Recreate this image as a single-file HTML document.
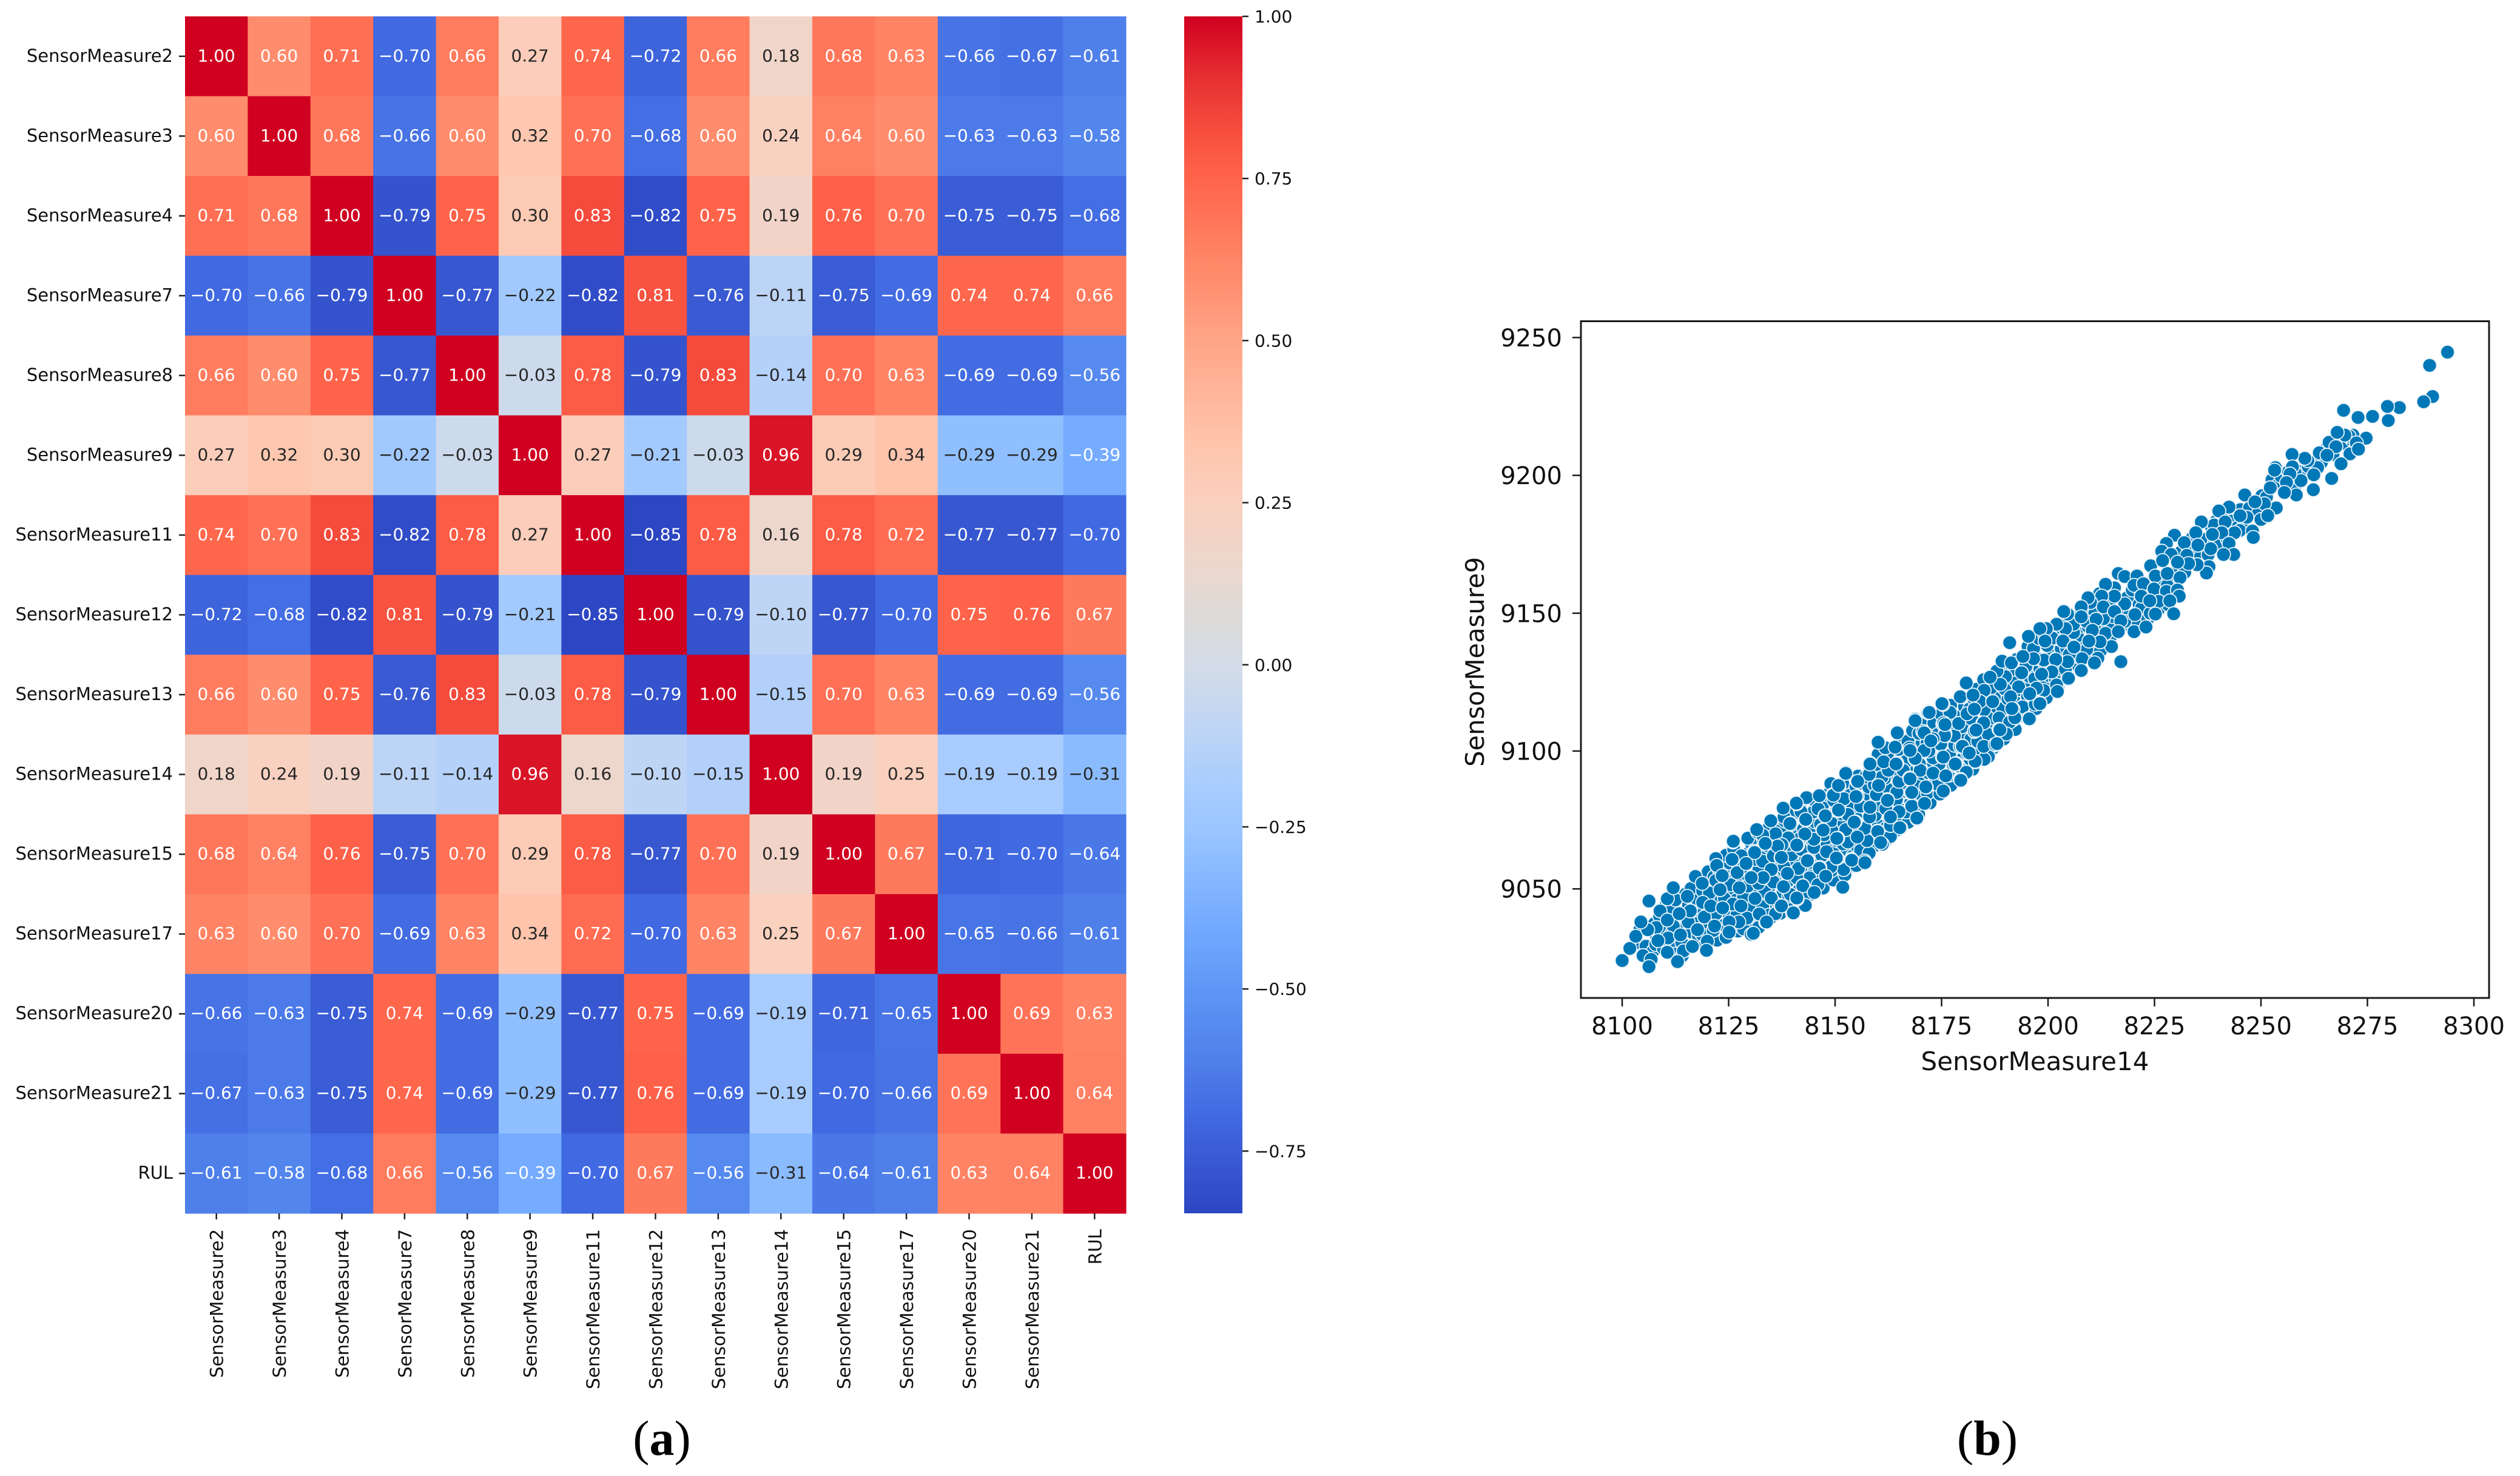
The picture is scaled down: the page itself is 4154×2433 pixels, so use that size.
<!DOCTYPE html>
<html lang="en">
<head>
<meta charset="utf-8">
<title>Sensor correlation heatmap and scatter plot</title>
<style>
html,body{margin:0;padding:0;background:#fff;}
svg{display:block;}
text{font-family:"DejaVu Sans","Liberation Sans",sans-serif;fill:#111;}
.serif{font-family:"Liberation Serif",serif;fill:#000;}
</style>
</head>
<body>
<svg id="figure" xmlns="http://www.w3.org/2000/svg" width="4154" height="2433" viewBox="0 0 4154 2433">
<rect width="4154" height="2433" fill="#ffffff"/>
<defs><linearGradient id="cbGrad" x1="0" y1="0" x2="0" y2="1"></linearGradient></defs>
<g id="heatmap"></g>
<g id="colorbar"></g>
<g id="scatter"></g>
<text class="serif" x="1091" y="2398" font-size="82" text-anchor="middle">(<tspan font-weight="bold">a</tspan>)</text>
<text class="serif" x="3276" y="2398" font-size="82" text-anchor="middle">(<tspan font-weight="bold">b</tspan>)</text>
</svg>
<script>
/* ---------- heatmap data ---------- */
const sensorLabels = ["SensorMeasure2","SensorMeasure3","SensorMeasure4","SensorMeasure7","SensorMeasure8","SensorMeasure9","SensorMeasure11","SensorMeasure12","SensorMeasure13","SensorMeasure14","SensorMeasure15","SensorMeasure17","SensorMeasure20","SensorMeasure21","RUL"];
const corrRow0  = [1.00,0.60,0.71,-0.70,0.66,0.27,0.74,-0.72,0.66,0.18,0.68,0.63,-0.66,-0.67,-0.61];
const corrRow1  = [0.60,1.00,0.68,-0.66,0.60,0.32,0.70,-0.68,0.60,0.24,0.64,0.60,-0.63,-0.63,-0.58];
const corrRow2  = [0.71,0.68,1.00,-0.79,0.75,0.30,0.83,-0.82,0.75,0.19,0.76,0.70,-0.75,-0.75,-0.68];
const corrRow3  = [-0.70,-0.66,-0.79,1.00,-0.77,-0.22,-0.82,0.81,-0.76,-0.11,-0.75,-0.69,0.74,0.74,0.66];
const corrRow4  = [0.66,0.60,0.75,-0.77,1.00,-0.03,0.78,-0.79,0.83,-0.14,0.70,0.63,-0.69,-0.69,-0.56];
const corrRow5  = [0.27,0.32,0.30,-0.22,-0.03,1.00,0.27,-0.21,-0.03,0.96,0.29,0.34,-0.29,-0.29,-0.39];
const corrRow6  = [0.74,0.70,0.83,-0.82,0.78,0.27,1.00,-0.85,0.78,0.16,0.78,0.72,-0.77,-0.77,-0.70];
const corrRow7  = [-0.72,-0.68,-0.82,0.81,-0.79,-0.21,-0.85,1.00,-0.79,-0.10,-0.77,-0.70,0.75,0.76,0.67];
const corrRow8  = [0.66,0.60,0.75,-0.76,0.83,-0.03,0.78,-0.79,1.00,-0.15,0.70,0.63,-0.69,-0.69,-0.56];
const corrRow9  = [0.18,0.24,0.19,-0.11,-0.14,0.96,0.16,-0.10,-0.15,1.00,0.19,0.25,-0.19,-0.19,-0.31];
const corrRow10 = [0.68,0.64,0.76,-0.75,0.70,0.29,0.78,-0.77,0.70,0.19,1.00,0.67,-0.71,-0.70,-0.64];
const corrRow11 = [0.63,0.60,0.70,-0.69,0.63,0.34,0.72,-0.70,0.63,0.25,0.67,1.00,-0.65,-0.66,-0.61];
const corrRow12 = [-0.66,-0.63,-0.75,0.74,-0.69,-0.29,-0.77,0.75,-0.69,-0.19,-0.71,-0.65,1.00,0.69,0.63];
const corrRow13 = [-0.67,-0.63,-0.75,0.74,-0.69,-0.29,-0.77,0.76,-0.69,-0.19,-0.70,-0.66,0.69,1.00,0.64];
const corrRow14 = [-0.61,-0.58,-0.68,0.66,-0.56,-0.39,-0.70,0.67,-0.56,-0.31,-0.64,-0.61,0.63,0.64,1.00];
const corrRows = [corrRow0,corrRow1,corrRow2,corrRow3,corrRow4,corrRow5,corrRow6,corrRow7,corrRow8,corrRow9,corrRow10,corrRow11,corrRow12,corrRow13,corrRow14];
const colorbarTicks = [1.00,0.75,0.50,0.25,0.00,-0.25,-0.50,-0.75];
const colorStopValues = [-0.846,-0.75,-0.7,-0.6,-0.5,-0.4,-0.25,-0.2,-0.1,0,0.05,0.15,0.25,0.35,0.5,0.6,0.75,0.8,0.9,1];
const colorStopRGB = [[45,70,195],[58,92,212],[65,105,225],[80,130,235],[95,150,245],[115,170,255],[155,198,255],[165,203,255],[190,213,245],[212,220,232],[217,219,220],[235,215,205],[250,208,190],[255,195,170],[255,165,135],[255,140,108],[255,100,75],[250,85,65],[232,50,50],[208,0,32]];

/* ---------- scatter data ---------- */
const scatterXTicks = [8100,8125,8150,8175,8200,8225,8250,8275,8300];
const scatterYTicks = [9050,9100,9150,9200,9250];

const underAX = [8103.5,8104.2,8105.6,
8107.3,8108.1,8107.6,8108.8,8107.9,
8110.2,8109.4,8110.9,8110.1,8109.7,
8112.4,8111.6,8112.9,8111.8,8112.7,8112.2,
8114.7,8113.9,8115.2,8114.3,8115.6,8114.9,8114.1,
8117.1,8116.3,8117.6,8116.8,8117.4,8116.2,8117.9,
8119.6,8118.7,8120.1,8119.2,8120.4,8118.9,8119.8,8120.2,
8122.3,8121.4,8122.8,8121.9,8123.1,8122.1,8121.6,8122.7,
8124.6,8123.9,8125.1,8124.2,8125.4,8124.8,8123.7,8125.2,8124.4,
8127.2,8126.4,8127.7,8126.9,8128.1,8126.6,8127.4,8127.9,8126.2,
8129.6,8128.9,8130.2,8129.3,8130.6,8129.1,8130.1,8129.8,8130.4,8129.5,
8132.3,8131.6,8132.8,8131.9,8133.1,8132.1,8131.4,8132.6,8133.2,8131.8,
8134.7,8134.1,8135.2,8134.4,8135.6,8134.9,8135.4,8134.2,8135.1,8134.6];
const underAY = [9030.5,9035.4,9029.2,
9027.5,9032.6,9037.4,9040.1,9029.8,
9030.1,9035.3,9041.2,9043.6,9028.4,
9029.4,9033.8,9038.2,9043.1,9047.4,9026.3,
9028.6,9032.7,9036.9,9040.4,9044.2,9048.1,9025.7,
9030.6,9034.4,9038.1,9042.3,9046.6,9050.2,9033.1,
9029.9,9033.6,9037.8,9041.6,9045.7,9049.3,9053.4,9056.2,
9031.4,9034.9,9038.6,9043.2,9047.1,9050.6,9054.4,9057.3,
9033.1,9036.8,9040.4,9044.9,9048.2,9052.3,9056.1,9059.4,9062.2,
9034.7,9038.9,9042.2,9046.1,9049.8,9053.4,9057.6,9061.2,9064.4,
9036.2,9040.6,9044.3,9048.2,9052.1,9055.4,9059.6,9063.1,9066.3,9068.4,
9037.1,9041.9,9045.2,9049.6,9053.1,9056.9,9060.7,9064.2,9067.8,9070.6,
9039.3,9042.8,9046.9,9050.4,9054.8,9058.2,9061.6,9065.6,9069.1,9072.8];

const underBX = [8137.2,8136.6,8137.8,8136.9,8138.1,8137.4,8136.7,8137.9,8137.1,8138.2,
8139.6,8139.1,8140.2,8139.4,8140.6,8139.8,8139.2,8140.4,8139.7,8140.1,
8142.3,8141.6,8142.8,8141.9,8143.1,8142.1,8141.7,8142.6,8143.2,8141.8,
8144.6,8144.1,8145.2,8144.4,8145.6,8144.8,8144.2,8145.3,8144.9,8145.4,
8147.2,8146.7,8147.8,8146.9,8148.1,8147.4,8146.6,8147.9,8147.1,8148.2,
8149.6,8149.1,8150.2,8149.4,8150.6,8149.8,8149.2,8150.4,8149.7,8150.1,
8152.3,8151.7,8152.8,8151.9,8153.1,8152.1,8151.6,8152.6,8153.2,8151.8,
8154.6,8154.1,8155.2,8154.4,8155.6,8154.8,8154.2,8155.3,8154.9,8155.4,
8157.2,8156.7,8157.8,8156.9,8158.1,8157.4,8156.6,8157.9,8157.1,8158.2,
8159.6,8159.1,8160.2,8159.4,8160.6,8159.8,8159.2,8160.4,8159.7,8160.1,
8162.3,8161.7,8162.8,8161.9,8163.1,8162.1,8161.6,8162.6,8163.2,8161.8,
8164.6,8164.1,8165.2,8164.4,8165.6,8164.8,8164.2,8165.3,8164.9,8165.4,
8167.2,8166.7,8167.8,8166.9,8168.1,8167.4,8166.6,8167.9,8167.1,8168.2,
8169.6,8169.1,8170.2,8169.4,8170.6,8169.8,8169.2,8170.4,8169.7,8170.1];
const underBY = [9041.2,9045.1,9048.8,9052.6,9056.3,9059.7,9063.2,9067.4,9071.1,9074.6,
9043.9,9047.4,9051.2,9054.9,9058.6,9062.4,9066.1,9069.8,9073.4,9077.2,
9046.1,9049.7,9053.2,9057.1,9060.8,9064.3,9068.2,9071.7,9075.6,9079.1,
9048.2,9052.3,9056.4,9059.6,9063.4,9066.8,9070.7,9074.3,9077.9,9081.8,
9050.3,9054.1,9058.2,9062.1,9065.8,9069.6,9073.4,9076.9,9080.6,9084.1,
9053.2,9056.6,9060.2,9063.9,9067.4,9071.2,9074.8,9078.4,9082.1,9085.7,
9055.1,9059.2,9062.7,9066.3,9069.9,9073.6,9077.2,9080.9,9084.6,9088.2,
9058.3,9061.8,9065.4,9068.9,9072.6,9076.3,9079.9,9083.7,9087.1,9090.9,
9061.2,9064.8,9068.6,9072.3,9075.8,9079.6,9083.4,9086.9,9090.6,9094.2,
9065.9,9069.4,9072.9,9076.7,9080.3,9084.1,9087.7,9091.4,9095.1,9098.8,
9068.2,9071.8,9075.4,9079.1,9082.8,9086.4,9090.1,9093.7,9097.6,9101.2,
9071.4,9075.1,9078.8,9082.4,9086.1,9089.8,9093.3,9096.9,9100.6,9104.3,
9074.2,9077.9,9081.6,9085.2,9088.9,9092.6,9096.2,9099.8,9103.6,9107.4,
9077.1,9080.7,9084.3,9088.1,9091.7,9095.3,9099.1,9102.8,9106.4,9110.1];

const underCX = [8172.3,8171.7,8172.8,8171.9,8173.1,8172.1,8171.6,8172.6,8173.2,8171.8,
8174.6,8174.1,8175.2,8174.4,8175.6,8174.8,8174.2,8175.3,8174.9,8175.4,
8177.2,8176.7,8177.8,8176.9,8178.1,8177.4,8176.6,8177.9,8177.1,
8179.6,8179.1,8180.2,8179.4,8180.6,8179.8,8179.2,8180.4,8179.7,
8182.3,8181.7,8182.8,8181.9,8183.1,8182.1,8181.6,8182.6,8183.2,
8184.6,8184.1,8185.2,8184.4,8185.6,8184.8,8184.2,8185.3,8184.9,
8187.2,8186.7,8187.8,8186.9,8188.1,8187.4,8186.6,8187.9,
8189.6,8189.1,8190.2,8189.4,8190.6,8189.8,8189.2,8190.4,
8192.3,8191.7,8192.8,8191.9,8193.1,8192.1,8191.6,8192.6,
8194.6,8194.1,8195.2,8194.4,8195.6,8194.8,8194.2,8195.3,
8197.2,8196.7,8197.8,8196.9,8198.1,8197.4,8196.6,8197.9,
8199.6,8199.1,8200.2,8199.4,8200.6,8199.8,8199.2,
8202.3,8201.7,8202.8,8201.9,8203.1,8202.1,8201.6,
8204.6,8204.1,8205.2,8204.4,8205.6,8204.8,8204.2,
8207.2,8206.7,8207.8,8206.9,8208.1,8207.4,
8209.6,8209.1,8210.2,8209.4,8210.6,8209.8,
8212.3,8211.7,8212.8,8211.9,8213.1,8212.1,
8214.6,8214.1,8215.2,8214.4,8215.6];
const underCY = [9081.2,9084.8,9088.3,9092.1,9095.6,9099.4,9102.9,9106.7,9110.3,9113.9,
9084.4,9087.9,9091.6,9095.2,9098.8,9102.5,9106.1,9109.8,9113.4,9116.8,
9087.6,9091.2,9094.8,9098.4,9102.1,9105.7,9109.3,9112.9,9116.6,
9090.6,9094.3,9097.9,9101.6,9105.2,9108.8,9112.4,9116.1,9119.7,
9093.4,9097.1,9100.8,9104.4,9108.1,9111.6,9115.3,9118.9,9122.4,
9097.2,9100.7,9104.3,9107.9,9111.6,9115.1,9118.8,9122.4,9125.9,
9101.2,9104.8,9108.4,9112.1,9115.7,9119.3,9122.9,9126.6,
9104.4,9108.1,9111.7,9115.4,9118.9,9122.6,9126.2,9129.8,
9107.8,9111.3,9115.1,9118.7,9122.3,9125.9,9129.6,9133.2,
9112.6,9116.2,9119.8,9123.4,9127.1,9130.7,9134.3,9137.9,
9115.4,9119.1,9122.7,9126.3,9129.8,9133.6,9137.2,9140.8,
9119.3,9123.8,9127.4,9131.1,9134.7,9138.3,9142.1,
9122.6,9126.2,9129.9,9133.6,9137.2,9140.8,9144.4,
9126.1,9129.7,9133.4,9137.1,9140.6,9144.3,9147.9,
9130.8,9134.4,9138.1,9141.7,9145.3,9149.1,
9134.6,9136.9,9141.3,9145.1,9148.8,9152.4,
9136.3,9141.8,9145.4,9149.2,9152.9,9157.1,
9141.2,9145.1,9148.8,9152.6,9159.2];

const underDX = [8218.3,8217.6,8219.1,8218.6,8220.8,8221.4,8219.8,8221.9,
8223.4,8224.2,8223.1,8224.6,8225.9,8226.3,8225.6,
8228.2,8227.6,8228.9,8229.1,8230.3,8231.2,8232.1,
8233.4,8234.1,8233.8,8235.3,8236.4,8237.6,8239.1,8238.4,8240.2,8239.6,
8242.1,8241.3,8243.2,8244.6,8245.2,8246.1,8247.3,8249.4,8250.2,8251.3,8252.6,8254.1,
8254.7,8256.4,8257.9,8259.2,8261.1,8262.7,8264.2,8265.7,8266.9,8268.2,8269.6,8271.4];
const underDY = [9146.2,9151.4,9149.2,9155.6,9146.8,9153.2,9158.4,9157.1,
9147.9,9152.2,9157.3,9161.6,9151.3,9157.1,9161.8,
9153.1,9158.6,9162.3,9161.7,9165.2,9172.2,9164.8,
9170.1,9173.6,9177.2,9170.9,9176.8,9171.2,9176.3,9181.2,9175.4,9183.6,
9176.8,9185.6,9183.4,9181.2,9187.6,9182.4,9188.1,9186.3,9192.6,9192.1,9198.4,9196.6,
9199.7,9201.3,9195.9,9201.4,9203.2,9205.3,9204.7,9210.8,9207.6,9212.4,9211.6,9212.9];

const coreFillX = [8108,8112,8115.5,8116,8112.5,8114,8120,8122,8120.5,8124,
8122,8125.5,8128.5,8132,8127,8130,8133,8134.5,8136,8128.5,
8133.5,8129.5,8132,8135.5,8128,8128.5,8133,8135.5,8138,8139,
8139.5,8143.5,8144,8146,8141,8143,8145,8148,8139,8136,
8133,8137.5,8145,8146,8142,8138,8153,8156,8152,8149,
8155,8158,8157.5,8163,8163,8157,8152.5,8153,8156,8165,
8168,8171,8164.5,8161,8165,8162.5,8166,8170,8173,8173,
8176,8172,8178,8179,8177,8181,8185,8188.5,8183.5,8186,
8186,8185,8191,8194,8197,8199,8190,8188,8185,8184,
8199,8206,8208,8202,8205,8213,8218,8222,8224,8228,
8233,8239,8245,8250,8258,8266,8211,8206,8201,8209];
const coreFillY = [9036,9036.5,9038,9042,9046,9030.5,9031,9041,9048.5,9046.5,
9053,9051.5,9035.5,9036,9041,9043,9043.5,9040.5,9041,9047,
9049,9051,9052,9052.5,9062,9058,9060,9062,9058,9053,
9048,9048.5,9054,9051.5,9054,9044,9065,9063.5,9068.5,9070,
9069.5,9066,9068,9079,9078,9076,9067,9064,9057,9058,
9058.5,9063,9067.5,9069,9073,9072,9071.5,9077,9080,9078,
9080,9081,9085,9090.5,9089,9093,9093,9093,9092,9097.5,
9091,9100,9105.5,9110,9114,9113.5,9115,9112,9103.5,9106,
9098,9097,9110.5,9116,9117,9122,9127,9129,9122,9118,
9133,9143,9133.5,9124,9135,9148,9147,9152,9150,9160,
9173,9182,9180,9184,9201,9212,9150,9146,9141,9147];

const tailX = [8293.8,8289.6,8290.3,8288.2,8282.5,8279.7,8279.9,8276.2,8272.8,8269.4,
8274.7,8271.6,8270.7,8269.7,8267.9,8272.4,8267.6,8270.9,8272.9,8268.8,
8266.6,8263.7,8265.5,8263.3,8262.4,8262.3,8261,8260.3,8259.4,8258.3,
8257.3,8257.4,8256.8,8256,8253.4,8253.2,8255.5,8252.2,8253.6,8250.8,
8251.6,8246.2,8248.6,8246.7,8245.1,8248,8248.2,8242.5,8240.1,8241.6,
8243.8,8240.8,8242.5,8243.6,8241.2,8238.2,8236,8238.6,8234.7,8235.2,
8237.8,8237.2,8235,8229.7,8232,8227.8,8226.7,8228.9,8232.6,8233,
8230.4,8224.1,8225.2,8228,8231,8226.9,8216.5,8218,8220.9,8220.2,
8213.5,8222.4,8224.9,8227.8,8230.4,8230.8,8221.9,8226,8223.9,8228.6,
8229.5,8225.2,8220.4,8218,8215.6,8212.6,8210,8209.4,8213,8215.6,
8207.8,8204.6,8203.7,8207.8,8211.3,8217.1,8220.2,8223,8213.5,8216.5,
8217.1,8214.9,8212.2,8210.4,8204.1,8202,8199.6,8198.1,8195.4,8191,
8199.3,8203.5,8206.1,8209.6,8211.7,8210.9,8207.8,8204.6,8201.8,8204.8,
8202.2,8200.9,8198.5,8197.3,8196.6,8193.8,8193.1,8198.1,8195.7,8191.2,
8191.8,8195.5,8192.2,8189.2,8191.4,8194.1,8188.8,8186.4,8180.8,8179.4,
8182.4,8187,8182.7,8184.7,8182.7,8188.5,8190.2,8187.6,8179.8,8182.9,
8178.4,8175.8,8175.3,8180.1,8184.9];
const tailY = [9244.7,9239.9,9228.6,9226.7,9224.6,9225,9219.9,9221.4,9221,9223.6,
9213.5,9214.6,9214.2,9214.6,9215.6,9211.8,9210.4,9207.8,9209.5,9204.2,
9198.9,9208.2,9207.3,9202.8,9200.2,9194.8,9205.3,9206.2,9198.1,9192.9,
9207.6,9203.1,9200.5,9197.4,9202.8,9201.9,9193.8,9195.5,9188.2,9189.7,
9185.4,9192.9,9190.4,9184.8,9185.4,9179.8,9177.5,9188.5,9187.1,9183.1,
9179.2,9179.2,9175.3,9171.3,9171.3,9173.4,9183.1,9178.6,9179.2,9174.7,
9166.9,9164.6,9167.6,9178.3,9175.6,9175.3,9172.5,9171.3,9171,9168,
9168.5,9167.2,9163.5,9164.4,9162.9,9169.1,9164.4,9163.3,9163.5,9160.1,
9160.5,9160.7,9158.8,9157.9,9158.4,9156.2,9156.2,9154.3,9154.5,9154.5,
9149.8,9149.7,9149.5,9153.4,9156.2,9156.2,9153.9,9155.6,9152.3,9150.6,
9152.3,9149.7,9150.6,9148.7,9147.8,9147.2,9143.3,9145,9142.7,9143.3,
9132.4,9137.9,9139.6,9143.8,9144.4,9146,9144.4,9144.4,9141.6,9139.3,
9139.9,9139.9,9137.7,9139.9,9133.7,9132,9129.2,9132.4,9133.2,9126.4,
9121.6,9128.7,9127.9,9122.8,9133.5,9128.4,9123.3,9117.4,9120.8,9119.7,
9115.2,9111.8,9112.1,9132.6,9132,9134.3,9124.2,9126.8,9124.7,9119.7,
9120.3,9118,9115.2,9110.1,9107.1,9107.9,9106.2,9102.3,9101.7,9096.1,
9095.5,9106.2,9116.9,9092.2,9101.7];

const midBandX = [8175.1,8172.1,8168.8,8164.6,8160.2,8175.5,8170.6,8175.7,8173,8182.7,
8184.9,8188.7,8191.5,8187,8198.1,8195.6,8187.6,8179.9,8164.1,8167.5,
8170.9,8175.2,8168.7,8164.5,8161.4,8158.2,8178.2,8182.9,8181.1,8180.8,
8179.4,8167.5,8171.4,8175.5,8167.8,8155.2,8152.5,8158,8150.9,8149,
8146.3,8149.5,8155.2,8160.2,8162.3,8158.2,8141,8143.3,8150.7,8147.6,
8143.1,8154.7,8158.1,8169.2,8165.4,8160,8161.1,8147.1,8150.6,8142.9,
8141,8155.2,8156.9,8153.8,8150.5,8143.6,8146.4,8141.4,8139.5,8163,
8152.1,8159.7];
const midBandY = [9117.2,9114.3,9111.5,9106.9,9103.3,9110.2,9107.1,9105.6,9104.4,9107.3,
9110.2,9107.7,9115.4,9117.9,9117.2,9111.7,9102.4,9101.8,9101.4,9101.1,
9100.2,9097.8,9097.2,9095.6,9096.1,9095.6,9095.2,9096.3,9099.2,9092.3,
9089.7,9090.2,9086.9,9085.5,9084.9,9089,9092.3,9091.5,9087.1,9088.2,
9083.8,9084.2,9083.6,9087.5,9082.4,9079.4,9080.9,9083.1,9078.3,9076.5,
9075,9074.3,9076.1,9075.4,9072.1,9071,9066.2,9071.4,9068.4,9069.9,
9065.8,9068.8,9060.1,9060.7,9061.1,9060.4,9057.8,9057.4,9073.9,9076.1,
9082.7,9084.2];

const lowBandX = [8106.3,8101.8,8104.9,8106.8,8106.3,8103.2,8106,8104.4,8108.9,8110.6,
8110.6,8112,8113.4,8115.3,8118.9,8117.2,8118.8,8119.3,8110.8,8108.4,
8113.7,8117.7,8110.6,8114.4,8119.8,8113,8116.5,8124.4,8122,8122.2,
8123.5,8125.8,8127,8129.1,8131,8126,8127.5,8123,8126,8131.2,
8133.7,8137.3,8141.1,8140,8142.4,8137.3,8136.5,8141.2,8143.6,8135,
8137.9,8133.6,8129.3,8127.4,8130.3,8125.1,8121.7,8120.8,8125.1,8133.1,
8130.3,8135,8138.8,8127.9,8123.6,8132.2,8100];
const lowBandY = [9045.6,9028.4,9025.8,9024.4,9021.8,9032.8,9035.2,9038,9042,9046.4,
9038.7,9050.4,9041,9047.3,9045.1,9054.5,9052,9039.8,9032.2,9031.2,
9033.3,9035.2,9027,9027.5,9027.7,9023.6,9029.1,9032.4,9061,9058.5,
9054.8,9060.7,9055.9,9059.2,9063.6,9067,9050.4,9049.7,9044.5,9046.5,
9038,9043.8,9046.4,9041.3,9051.2,9061.4,9065.5,9065.8,9060.5,9057,
9050.8,9066.5,9039.4,9038,9033.5,9038,9036.5,9043.8,9034.3,9054.1,
9054.1,9046.7,9055.6,9043.8,9043.1,9040.9,9024];

const topLayerX = [8126.1,8131.6,8131.1,8134.9,8139.4,8137.8,8140.9,8143.1,8147.7,8146.3,
8149.6,8150.8,8152.5,8155.3,8158.2,8160.1,8164.6,8168.8,8164.3,8168.8,
8167.6,8162.3,8168,8169.2,8165.2,8160,8160.7,8154.5,8147.2,8150.4,
8141,8137.4,8143.5,8153.9,8157,8150.3,8146.3,8142.4,8147.8,8141,
8145.1,8151.8,8137.4,8140.2,8133.9,8130.8,8175.4,8171.3,8179.5,8183.1,
8188,8175.4,8179.9,8178.2,8181.5,8175.8,8170.9,8172.1,8172.5,8167.6,
8158.2,8154.9,8150.8,8160.2];
const topLayerY = [9067.3,9071.5,9063.2,9074.7,9073.7,9079.3,9081.1,9075.2,9076.5,9083.8,
9084,9087.5,9091.9,9089,9095.3,9103.2,9106.6,9111,9095.3,9097.3,
9089.9,9082.1,9085,9075.7,9072.2,9070.8,9066.8,9074.2,9071.3,9068.3,
9065.9,9061.4,9060.2,9060.4,9059.5,9061.2,9057.5,9051.1,9054.6,9046.7,
9048.7,9050.6,9043.8,9041.3,9038,9033.9,9085.5,9087,9089.4,9107.6,
9102.7,9097.8,9101.7,9095.3,9099.3,9109.6,9106.6,9114,9103.7,9100.2,
9079.6,9083.5,9078.6,9087.5];

/* ---------- helpers ---------- */
const NS = "http://www.w3.org/2000/svg";
function make(tag, parent, attrs, txt) {
  const el = document.createElementNS(NS, tag);
  for (const k in attrs) el.setAttribute(k, attrs[k]);
  if (txt !== undefined) el.textContent = txt;
  parent.appendChild(el);
  return el;
}
function fmt(v) { return (v < 0 ? "\u2212" : "") + Math.abs(v).toFixed(2); }

/* ---------- colour scale ---------- */
function colorRGB(v) {
  const s = colorStopValues;
  if (v <= s[0]) return colorStopRGB[0];
  for (let i = 1; i < s.length; i++) {
    if (v <= s[i]) {
      const t = (v - s[i-1]) / (s[i] - s[i-1]);
      return colorStopRGB[i-1].map((c, k) => Math.round(c + (colorStopRGB[i][k] - c) * t));
    }
  }
  return colorStopRGB[s.length - 1];
}
function cssColor(c) { return "rgb(" + c[0] + "," + c[1] + "," + c[2] + ")"; }
function luminance(c) {
  const f = c.map(u => { const x = u / 255; return x <= 0.03928 ? x / 12.92 : Math.pow((x + 0.055) / 1.055, 2.4); });
  return 0.2126 * f[0] + 0.7152 * f[1] + 0.0722 * f[2];
}

/* ---------- heatmap ---------- */
const hmLeft = 305, hmRight = 1856, hmTop = 27, hmBottom = 2000;
const hmCols = sensorLabels.length;
const cellW = (hmRight - hmLeft) / hmCols;
const cellH = (hmBottom - hmTop) / hmCols;
function hx(i) { return hmLeft + i * cellW; }
function hy(j) { return hmTop + j * cellH; }
const heat = document.getElementById("heatmap");

corrRows.forEach((row, j) => {
  row.forEach((v, i) => {
    const c = colorRGB(v);
    const cell = make("rect", heat, {x: hx(i), y: hy(j), width: cellW + 0.6, height: cellH + 0.6, fill: cssColor(c)});
    
    
  });
});
corrRows.forEach((row, j) => {
  row.forEach((v, i) => {
    const c = colorRGB(v);
    const t = make("text", heat, {x: hx(i) + cellW / 2, y: hy(j) + cellH / 2 + 8.5, "font-size": 28, "text-anchor": "middle"}, fmt(v));
    t.style.fill = luminance(c) < 0.43 ? "#ffffff" : "#262626";
    
    
  });
});
sensorLabels.forEach((name, j) => {
  const yc = hy(j) + cellH / 2;
  const tick = make("line", heat, {x1: hmLeft - 10, x2: hmLeft, y1: yc, y2: yc, stroke: "#222", "stroke-width": 2.5});
  
  
  const lab = make("text", heat, {x: 285, y: yc + 9, "font-size": 29, "text-anchor": "end"}, name);
  
  
});
sensorLabels.forEach((name, i) => {
  const xc = hx(i) + cellW / 2;
  const tick = make("line", heat, {x1: xc, x2: xc, y1: hmBottom, y2: hmBottom + 10, stroke: "#222", "stroke-width": 2.5});
  
  
  const lab = make("text", heat, {x: 0, y: 0, "font-size": 29.5, "text-anchor": "end", transform: "translate(" + (xc + 11) + ",2026) rotate(-90)"}, name);
  
  
});

/* ---------- colorbar ---------- */
const cbLeft = 1952, cbRight = 2048, cbTop = 27, cbBottom = 2000;
const cbMin = colorStopValues[0], cbMax = colorStopValues[colorStopValues.length - 1];
function cbY(v) { return cbTop + (cbMax - v) / (cbMax - cbMin) * (cbBottom - cbTop); }
const cbG = document.getElementById("colorbar");
const grad = document.getElementById("cbGrad");
colorStopValues.forEach((v, i) => {
  make("stop", grad, {offset: ((cbMax - v) / (cbMax - cbMin)).toFixed(4), "stop-color": cssColor(colorStopRGB[i])});
});
// stops must run top-to-bottom: reorder
Array.from(grad.children).reverse().forEach(s => grad.appendChild(s));
const cbRect = make("rect", cbG, {x: cbLeft, y: cbTop, width: cbRight - cbLeft, height: cbBottom - cbTop, fill: "url(#cbGrad)"});


colorbarTicks.forEach(v => {
  const y = cbY(v);
  const tick = make("line", cbG, {x1: cbRight, x2: cbRight + 10, y1: y, y2: y, stroke: "#222", "stroke-width": 2.5});
  
  
  const lab = make("text", cbG, {x: 2068, y: y + 10, "font-size": 28}, fmt(v));
  
  
});

/* ---------- scatter ---------- */
const axLeft = 2606, axRight = 4103, axTop = 529.5, axBottom = 1645;
function sx(v) { return 2674 + (v - 8100) * 7.02; }
function sy(v) { return 1238 - (v - 9100) * 4.544; }
const sc = document.getElementById("scatter");
const scatterGroups = [[underAX, underAY], [underBX, underBY], [underCX, underCY], [underDX, underDY], [coreFillX, coreFillY], [tailX, tailY], [midBandX, midBandY], [lowBandX, lowBandY], [topLayerX, topLayerY]];
scatterGroups.forEach(g => {
  const xs = g[0], ys = g[1];
  xs.forEach((x, i) => {
    const pt = make("circle", sc, {cx: sx(x), cy: sy(ys[i]), r: 11.5, fill: "#0077b6", stroke: "#eaf4fa", "stroke-width": 1.8});
    
    
  });
});
const frame = make("rect", sc, {x: axLeft, y: axTop, width: axRight - axLeft, height: axBottom - axTop, fill: "none", stroke: "#1a1a1a", "stroke-width": 3});


scatterXTicks.forEach(v => {
  const x = sx(v);
  const tick = make("line", sc, {x1: x, x2: x, y1: axBottom, y2: axBottom + 14, stroke: "#1a1a1a", "stroke-width": 2.5});
  
  
  const lab = make("text", sc, {x: x, y: 1705, "font-size": 40, "text-anchor": "middle"}, String(v));
  
  
});
scatterYTicks.forEach(v => {
  const y = sy(v);
  const tick = make("line", sc, {x1: axLeft - 14, x2: axLeft, y1: y, y2: y, stroke: "#1a1a1a", "stroke-width": 2.5});
  
  
  const lab = make("text", sc, {x: 2575, y: y + 14.5, "font-size": 40, "text-anchor": "end"}, String(v));
  
  
});
const xTitle = make("text", sc, {x: (axLeft + axRight) / 2, y: 1764, "font-size": 42, "text-anchor": "middle"}, "SensorMeasure14");


const yTitle = make("text", sc, {x: 0, y: 0, "font-size": 41.6, "text-anchor": "middle", transform: "translate(2446,1091) rotate(-90)"}, "SensorMeasure9");


</script>
</body>
</html>
